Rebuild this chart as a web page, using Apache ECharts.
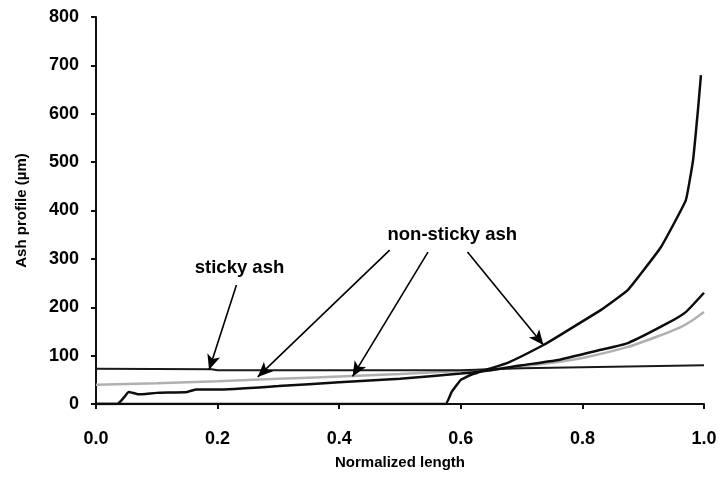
<!DOCTYPE html>
<html>
<head>
<meta charset="utf-8">
<script src="https://cdn.jsdelivr.net/npm/echarts@6/dist/echarts.min.js"></script>
<style>
  html, body { margin: 0; padding: 0; background: #fff; }
  #chart { width: 720px; height: 478px; }
</style>
</head>
<body>
<div id="chart"></div>
<script>
// Ash deposit thickness along the normalized length
const stickyX = [0, 0.19, 0.2, 0.4, 0.6, 0.65, 0.7, 0.8, 0.9, 1.0];
const stickyY = [73, 72, 70, 70, 70, 72, 74, 76, 78, 80];

const greyX = [0, 0.1, 0.2, 0.3, 0.4, 0.5, 0.6, 0.65, 0.7, 0.76, 0.8, 0.875, 0.92, 0.96, 0.98, 1.0];
const greyY = [40, 43, 47, 52, 57, 62, 68, 72, 78, 87, 95, 118, 138, 158, 172, 190];

const lowerX = [0, 0.035, 0.045, 0.054, 0.07, 0.1, 0.15, 0.165, 0.2, 0.3, 0.4, 0.5, 0.6, 0.65, 0.7, 0.76, 0.83, 0.875, 0.94, 0.97, 1.0];
const lowerY = [0, 0, 12, 25, 20, 23, 25, 30, 30, 37, 45, 52, 63, 70, 80, 91, 112, 126, 167, 190, 230];

const steepX = [0, 0.575, 0.585, 0.6, 0.616, 0.65, 0.677, 0.736, 0.764, 0.83, 0.875, 0.929, 0.97, 0.982, 0.99, 0.995];
const steepY = [0, 0, 25, 50, 60, 74, 85, 122, 143, 194, 236, 324, 421, 504, 607, 680];

const xTicks = [0, 0.2, 0.4, 0.6, 0.8, 1.0];
const yTicks = [0, 100, 200, 300, 400, 500, 600, 700, 800];

// Callout labels and arrows, in data units
const stickyLabel = { text: 'sticky ash', at: [0.236, 282] };
const stickyArrow = [[0.231, 246], [0.186, 71]];
const nonStickyLabel = { text: 'non-sticky ash', at: [0.586, 349] };
const nonStickyArrows = [
  [[0.483, 318], [0.266, 56]],
  [[0.546, 314], [0.422, 57]],
  [[0.611, 314], [0.736, 122]]
];

const zip = (xs, ys) => xs.map((x, i) => [x, ys[i]]);
const font = '"Liberation Sans", Arial, sans-serif';

const arrowLines = [stickyArrow].concat(nonStickyArrows).map(a => [
  { coord: a[0], symbol: 'none' },
  { coord: a[1], symbol: 'arrow', symbolSize: [10, 15] }
]);

const chart = echarts.init(document.getElementById('chart'));
chart.setOption({
  animation: false,
  backgroundColor: '#fff',
  grid: { left: 96, right: 16, top: 17, bottom: 74 },
  xAxis: {
    type: 'value', min: 0, max: 1, interval: 0.2,
    name: 'Normalized length', nameLocation: 'middle', nameGap: 51,
    nameTextStyle: { fontFamily: font, fontWeight: 'bold', fontSize: 15, color: '#000' },
    axisLine: { show: true, lineStyle: { color: '#111', width: 2 } },
    axisTick: { show: true, length: 5, lineStyle: { color: '#111', width: 2 } },
    axisLabel: { fontFamily: font, fontWeight: 'bold', fontSize: 18, color: '#000', margin: 26,
      formatter: v => xTicks.some(t => Math.abs(t - v) < 1e-9) ? v.toFixed(1) : '' },
    splitLine: { show: false }
  },
  yAxis: {
    type: 'value', min: 0, max: 800, interval: 100,
    name: 'Ash profile (µm)', nameLocation: 'middle', nameGap: 67, nameRotate: 90,
    nameTextStyle: { fontFamily: font, fontWeight: 'bold', fontSize: 15, color: '#000' },
    axisLine: { show: true, lineStyle: { color: '#111', width: 2 } },
    axisTick: { show: true, length: 5, lineStyle: { color: '#111', width: 2 } },
    axisLabel: { fontFamily: font, fontWeight: 'bold', fontSize: 18, color: '#000', margin: 17,
      formatter: v => yTicks.includes(v) ? String(v) : '' },
    splitLine: { show: false }
  },
  series: [
    {
      name: 'grey', type: 'line', data: zip(greyX, greyY), showSymbol: false,
      smooth: 0.15,
      lineStyle: { color: '#b0b0b0', width: 2.5 }, z: 2
    },
    {
      name: 'sticky', type: 'line', data: zip(stickyX, stickyY), showSymbol: false,
      lineStyle: { color: '#1a1a1a', width: 2 }, z: 3,
      markLine: {
        silent: true, animation: false,
        label: { show: false },
        lineStyle: { color: '#000', width: 1.6, type: 'solid' },
        data: arrowLines
      }
    },
    {
      name: 'lower', type: 'line', data: zip(lowerX, lowerY), showSymbol: false,
      smooth: 0.15,
      lineStyle: { color: '#0d0d0d', width: 2.5 }, z: 4
    },
    {
      name: 'steep', type: 'line', data: zip(steepX, steepY), showSymbol: false,
      smooth: 0.1,
      lineStyle: { color: '#0d0d0d', width: 2.5 }, z: 5
    },
    {
      name: 'labels', type: 'scatter', symbolSize: 0, silent: true,
      itemStyle: { color: '#000', opacity: 1 },
      data: [stickyLabel, nonStickyLabel].map(l => ({ value: l.at, name: l.text })),
      label: {
        show: true, position: 'inside', formatter: p => p.name,
        fontFamily: font, fontWeight: 'bold', fontSize: 18.5, color: '#000',
        textBorderWidth: 0
      }
    }
  ]
});
</script>
</body>
</html>
